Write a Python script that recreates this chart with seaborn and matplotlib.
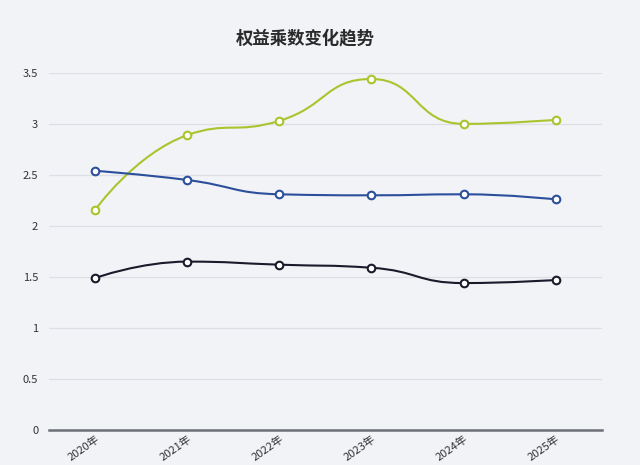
"""
权益乘数变化趋势 - smooth line chart
"""

import numpy as np
from matplotlib import pyplot as plt
from matplotlib.path import Path
from matplotlib.patches import PathPatch
import seaborn as sns

years = ["2020年", "2021年", "2022年", "2023年", "2024年", "2025年"]
green_vals = [2.16, 2.89, 3.03, 3.44, 3.00, 3.04]
blue_vals = [2.54, 2.45, 2.31, 2.30, 2.31, 2.26]
black_vals = [1.49, 1.65, 1.62, 1.59, 1.44, 1.47]
y_ticks = [0, 0.5, 1, 1.5, 2, 2.5, 3, 3.5]

BG = "#f1f3f7"
SX, SY = 92.0, 102.0  # px per data unit, used for the smoothing ratios


def smooth_path(xs, ys, smooth=0.5):
    # echarts-style bezier smoothing (with clamping, so no overshoot)
    pts = np.column_stack([np.asarray(xs, float) * SX, np.asarray(ys, float) * SY])
    n = len(pts)
    cp_in = [p.copy() for p in pts]
    cp_out = [p.copy() for p in pts]
    for i in range(1, n - 1):
        prev, cur, nxt = pts[i - 1], pts[i], pts[i + 1]
        v = nxt - prev
        d0 = np.hypot(*(cur - prev))
        d1 = np.hypot(*(nxt - cur))
        ratio = d1 / (d0 + d1)
        nc = cur + v * smooth * ratio
        nc = np.minimum(nc, np.maximum(nxt, cur))
        nc = np.maximum(nc, np.minimum(nxt, cur))
        v = nc - cur
        pc = cur - v * d0 / d1
        pc = np.minimum(pc, np.maximum(prev, cur))
        pc = np.maximum(pc, np.minimum(prev, cur))
        v = cur - pc
        nc = cur + v * d1 / d0
        cp_in[i] = pc
        cp_out[i] = nc
    verts = [pts[0]]
    codes = [Path.MOVETO]
    for i in range(1, n):
        verts += [cp_out[i - 1], cp_in[i], pts[i]]
        codes += [Path.CURVE4] * 3
    verts = np.array(verts) / [SX, SY]
    return Path(verts, codes)


sns.set_theme(style="white")
plt.rcParams["font.family"] = ["Noto Sans CJK SC", "DejaVu Sans"]

fig = plt.figure(figsize=(6.4, 4.65), dpi=100, facecolor=BG)
ax = fig.add_axes([0.077, 0.0753, 0.863, 0.768])
ax.set_facecolor(BG)

xs = np.arange(len(years))
series = [
    (green_vals, "#a9c42c"),
    (blue_vals, "#2c4f9c"),
    (black_vals, "#1a1a2b"),
]
for vals, color in series:
    ax.add_patch(PathPatch(smooth_path(xs, vals), facecolor="none",
                           edgecolor=color, linewidth=1.5, zorder=3))
    sns.scatterplot(x=xs, y=vals, ax=ax, s=30, color="white",
                    edgecolor=color, linewidth=1.5, zorder=4, legend=False)

ax.set_xlim(-0.5, len(years) - 0.5)
ax.set_ylim(0, 3.5)
ax.set_yticks(y_ticks)
ax.set_yticklabels([f"{t:g}" for t in y_ticks], fontsize=8, color="#333333")
ax.set_xticks(xs)
ax.set_xticklabels(years, fontsize=8, color="#333333", rotation=35,
                   ha="right", rotation_mode="anchor")
ax.tick_params(axis="y", length=0, pad=8)
ax.tick_params(axis="x", length=0, pad=3)
ax.grid(axis="y", color="#dcdfe5", linewidth=0.9)
ax.set_axisbelow(True)
for side in ["top", "right", "left"]:
    ax.spines[side].set_visible(False)
ax.spines["bottom"].set_color("#6e7079")
ax.spines["bottom"].set_linewidth(1.8)

fig.text(0.477, 0.918, "权益乘数变化趋势", ha="center", va="center",
         fontsize=12.5, fontweight="bold", color="#2a2a2a")

fig.savefig("out.png", dpi=100, facecolor=BG)
